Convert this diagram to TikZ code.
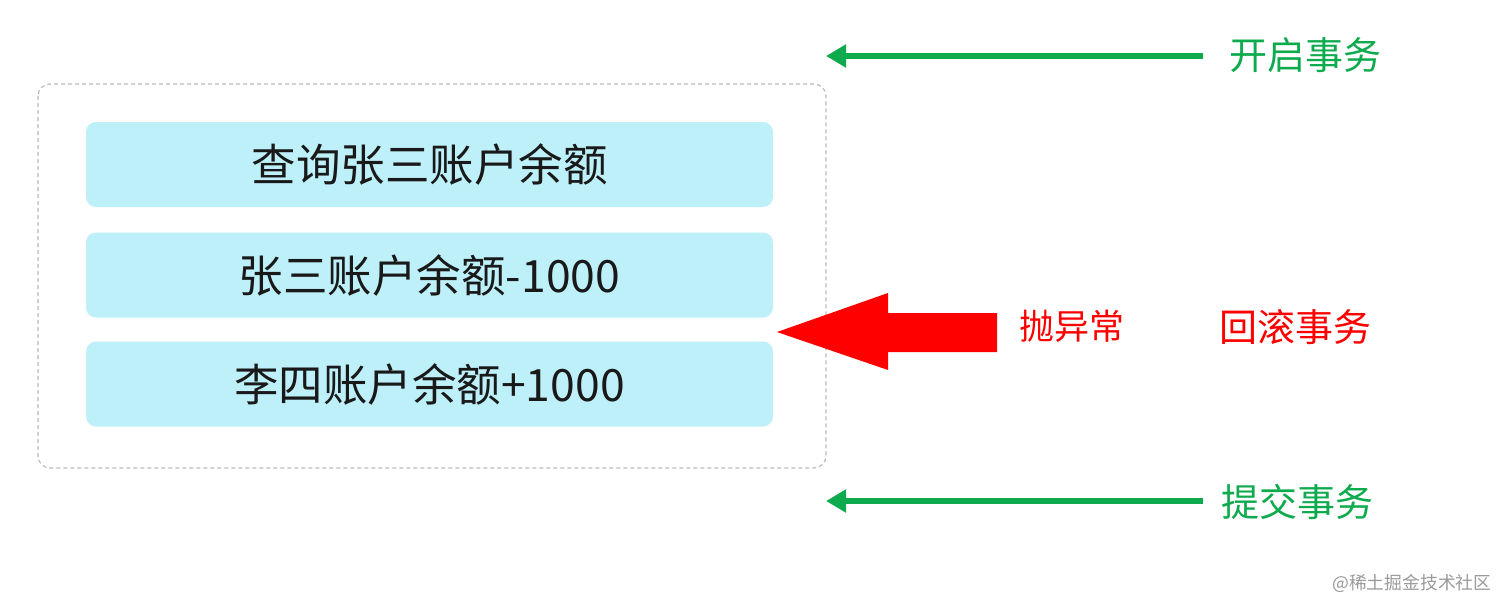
\documentclass[tikz,border=0pt]{standalone}
\usepackage{fontspec}
\setmainfont{Noto Sans CJK SC}
\newfontfamily\cjk{Noto Sans CJK SC}
\definecolor{boxfill}{HTML}{BEF0FA}
\definecolor{tgreen}{HTML}{0DAA4E}
\definecolor{tred}{HTML}{FF0000}
\definecolor{dashgray}{HTML}{BBBBBB}
\definecolor{wmgray}{HTML}{9A9A9A}
\tikzset{
  opbox/.style={fill=boxfill, rounded corners=10pt, minimum width=687pt, minimum height=85pt, inner sep=0pt, font=\cjk\fontsize{44.5}{46}\selectfont, text=black!90},
  outerbox/.style={draw=dashgray, dash pattern=on 4pt off 3pt, line width=1.2pt, rounded corners=12pt},
  garrow/.style={draw=tgreen, line width=5.5pt, -{Triangle[length=20pt,width=22pt]}},
  glabel/.style={text=tgreen, font=\cjk\fontsize{38}{40}\selectfont, inner sep=0pt, anchor=west},
  rlabel/.style={text=tred, inner sep=0pt, anchor=west},
}
\usetikzlibrary{arrows.meta}
\begin{document}
\begin{tikzpicture}[x=1pt,y=-1pt]
\useasboundingbox (0,0) rectangle (1512,614);
\fill[white] (0,0) rectangle (1512,614);
% outer dashed transaction box
\draw[outerbox] (38,84) rectangle (826,468);
% operation boxes
\node[opbox] (q) at (429.5,164.5) {查询张三账户余额};
\node[opbox] (m) at (429.5,275) {张三账户余额-1000};
\node[opbox] (p) at (429.5,384) {李四账户余额+1000};
% begin transaction
\node[glabel] (begin) at (1229,55) {开启事务};
\coordinate (bs) at (1203,56);
\coordinate (be) at (826,56);
\draw[garrow] (bs) -- (be);
% commit transaction
\node[glabel] (commit) at (1221,502) {提交事务};
\coordinate (cs) at (1203,501);
\coordinate (ce) at (826,501);
\draw[garrow] (cs) -- (ce);
% exception arrow
\fill[tred] (777,332) -- (888,293) -- (888,313) -- (997,313) -- (997,352) -- (888,352) -- (888,370) -- cycle;
\node[rlabel, font=\cjk\fontsize{35}{37}\selectfont] (throw) at (1019,326) {抛异常};
\node[rlabel, font=\cjk\fontsize{38}{40}\selectfont] (rollback) at (1219,327) {回滚事务};
% watermark
\node[text=wmgray, font=\cjk\fontsize{17.8}{19}\selectfont, inner sep=0pt, anchor=west] (wm) at (1332,583) {@稀土掘金技术社区};
\end{tikzpicture}
\end{document}
